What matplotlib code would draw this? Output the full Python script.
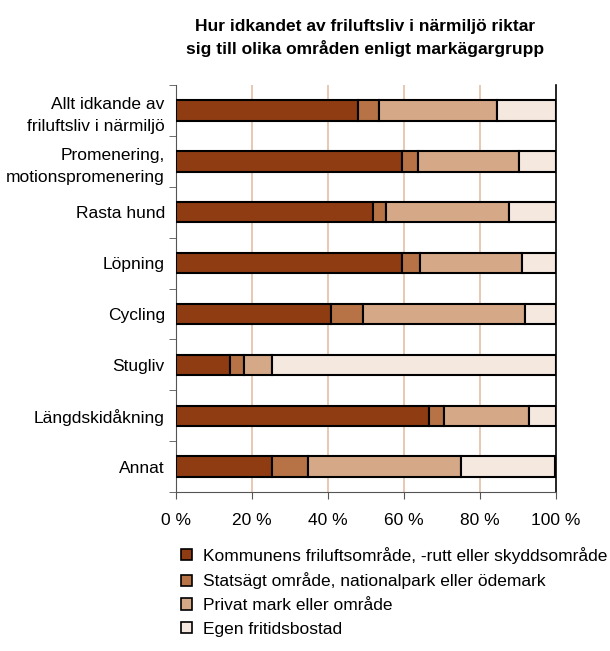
import numpy as np
import matplotlib.pyplot as plt
from matplotlib.patches import Patch

categories = ["Allt idkande av\nfriluftsliv i närmiljö", "Promenering,\nmotionspromenering",
              "Rasta hund", "Löpning", "Cycling", "Stugliv", "Längdskidåkning", "Annat"]
kommun = [48.0, 59.6, 51.8, 59.6, 40.8, 14.2, 66.7, 25.2]
stat = [5.5, 4.2, 3.4, 4.6, 8.5, 3.7, 3.8, 9.6]
privat = [31.1, 26.4, 32.5, 26.9, 42.5, 7.3, 22.5, 40.1]
fritid = [15.4, 9.8, 12.3, 8.9, 8.2, 74.8, 7.0, 24.9]
series_names = ["Kommunens friluftsområde, -rutt eller skyddsområde",
                "Statsägt område, nationalpark eller ödemark",
                "Privat mark eller område",
                "Egen fritidsbostad"]
colors = ["#903c12", "#b77345", "#d5a987", "#f5e8df"]
xticks = [0, 20, 40, 60, 80, 100]

plt.rcParams['font.family'] = ['Liberation Sans', 'DejaVu Sans']

fig = plt.figure(figsize=(6.1, 6.51), dpi=100)
ax = fig.add_axes([0.2885, 0.2442, 0.6230, 0.6252])

y = np.arange(len(categories))
left = np.zeros(len(categories))
for vals, col in zip([kommun, stat, privat, fritid], colors):
    ax.barh(y, vals, left=left, height=0.4, color=col, edgecolor='black', linewidth=1.5, zorder=3)
    left += np.array(vals)

ax.set_xlim(0, 100)
ax.set_ylim(len(categories) - 0.5, -0.5)
ax.set_xticks(xticks)
ax.set_xticklabels([f"{t} %" for t in xticks], fontsize=12.5)
ax.set_yticks(y)
ax.set_yticklabels(categories, fontsize=12.5, linespacing=1.62)
ax.set_yticks(np.arange(len(categories) + 1) - 0.5, minor=True)
ax.tick_params(axis='y', which='major', length=0, pad=8)
ax.tick_params(axis='y', which='minor', length=5, color='#555555')
ax.tick_params(axis='x', length=5, color='#555555', pad=10)
for gx in xticks[1:-1]:
    ax.axvline(gx, color='#e3bfa5', linewidth=1.2, zorder=1)
ax.spines['top'].set_visible(False)
ax.spines['right'].set_color('black')
ax.spines['right'].set_linewidth(1.2)
ax.spines['left'].set_color('#555555')
ax.spines['bottom'].set_color('#555555')

fig.text(0.599, 0.942, "Hur idkandet av friluftsliv i närmiljö riktar\nsig till olika områden enligt markägargrupp",
         ha='center', va='center', fontsize=12.5, fontweight='bold', linespacing=1.44)

handles = [Patch(facecolor=c, edgecolor='black', linewidth=1.2) for c in colors]
fig.legend(handles, series_names, loc='upper left', bbox_to_anchor=(0.297, 0.16),
           frameon=False, fontsize=12.5, handlelength=0.63, handleheight=0.63,
           handletextpad=0.63, labelspacing=0.5, borderaxespad=0, borderpad=0)

fig.savefig("out.png", dpi=100)
